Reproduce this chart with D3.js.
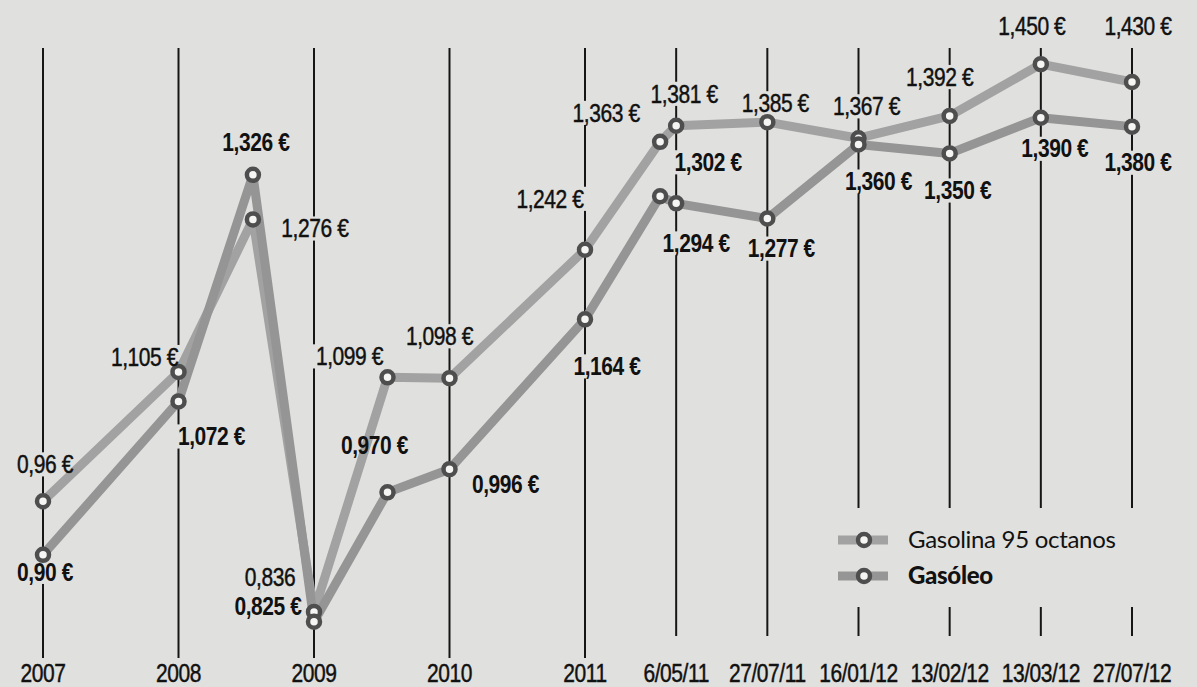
<!DOCTYPE html>
<html>
<head>
<meta charset="utf-8">
<script src="https://cdn.jsdelivr.net/npm/d3@7"></script>
<style>
  html, body { margin: 0; padding: 0; background: #e0e0de; }
  svg { display: block; }
  text { font-family: "Liberation Sans", Arial, sans-serif; fill: #111; }
  text.regular { stroke: #111; stroke-width: 0.45px; }
  text.legend { font-family: Lato, "Liberation Sans", sans-serif; }
</style>
</head>
<body>
<svg id="chart"></svg>
<script>
// axis ticks (dates shown at the bottom)
const tickDates = ["2007-01-01", "2008-01-01", "2009-01-01", "2010-01-01", "2011-01-01",
    "2011-05-06", "2011-07-27", "2012-01-16", "2012-02-13", "2012-03-13", "2012-07-27"];
const tickLabels = ["2007", "2008", "2009", "2010", "2011",
    "6/05/11", "27/07/11", "16/01/12", "13/02/12", "13/03/12", "27/07/12"];

// dates of every reading on the lines
const pointDates = ["2007-01-01", "2008-01-01", "2008-07-20", "2009-01-01", "2009-07-18", "2010-01-01",
    "2011-01-01", "2011-04-14", "2011-05-06", "2011-07-27", "2012-01-16", "2012-02-13", "2012-03-13", "2012-07-27"];

// price per litre, euros
const gasolina = [0.96, 1.105, 1.276, 0.836, 1.099, 1.098, 1.242, 1.363, 1.381, 1.385, 1.367, 1.392, 1.450, 1.430];
const gasoleo = [0.90, 1.072, 1.326, 0.825, 0.970, 0.996, 1.164, 1.302, 1.294, 1.277, 1.360, 1.350, 1.390, 1.380];

const gasolinaLabels = ["0,96 €", "1,105 €", "1,276 €", "0,836", "1,099 €", "1,098 €", "1,242 €",
    "1,363 €", "1,381 €", "1,385 €", "1,367 €", "1,392 €", "1,450 €", "1,430 €"];
const gasoleoLabels = ["0,90 €", "1,072 €", "1,326 €", "0,825 €", "0,970 €", "0,996 €", "1,164 €",
    "1,302 €", "1,294 €", "1,277 €", "1,360 €", "1,350 €", "1,390 €", "1,380 €"];

const seriesNames = ["Gasolina 95 octanos", "Gasóleo"];

// layout: where each value label sits relative to its point
const gasolinaLabelOffset = [[2, -37], [-34, -15], [62, 9], [-44, -35], [-38, -21], [-10, -42], [-35, -51],
    [-54, -29], [8, -32], [8, -19], [8, -32], [-10, -39], [-9, -38], [6, -56]];
const gasoleoLabelOffset = [[2, 17], [33, 35], [3, -33], [-46, -15], [-13, -47], [56, 15], [22, 47],
    [48, -34], [20, 40], [14, 30], [20, 37], [8, 37], [14, 31], [6, 36]];

const width = 1197, height = 687;
const bg = "#e0e0de";
const narrow = 0.84; // condensed look of the newspaper type
const parse = d3.timeParse("%Y-%m-%d");

const svg = d3.select("#chart")
    .attr("width", width)
    .attr("height", height);

svg.append("rect").attr("width", width).attr("height", height).attr("fill", bg);

// years are spaced wider than the 2011-2012 dates
const xFirst = 43, xYearEnd = 585, xLast = 1132;
const xRange = tickDates.map((d, i) => i <= 4
    ? xFirst + i * (xYearEnd - xFirst) / 4
    : xYearEnd + (i - 4) * (xLast - xYearEnd) / (tickDates.length - 5));

const x = d3.scaleTime()
    .domain(tickDates.map(parse))
    .range(xRange);

const y = d3.scaleLinear()
    .domain([0.8, 1.5])
    .range([644, 19.6]);

const gTicks = svg.append("g");
const gKnock = svg.append("g");
const gLines = svg.append("g");
const gMarks = svg.append("g");
const gText = svg.append("g");

const place = (px, py) => "translate(" + px + "," + py + ") scale(" + narrow + ",1)";

// vertical date lines + labels
gTicks.selectAll("line")
    .data(tickDates)
    .enter()
    .append("line")
    .attr("x1", d => x(parse(d)))
    .attr("x2", d => x(parse(d)))
    .attr("y1", 48)
    .attr("y2", (d, i) => i <= 4 ? 658 : 636)
    .attr("stroke", "#161616")
    .attr("stroke-width", 2);

gText.selectAll(".tick")
    .data(tickDates)
    .enter()
    .append("text")
    .attr("class", "tick regular")
    .attr("transform", d => place(x(parse(d)), 673))
    .attr("dy", "0.35em")
    .attr("text-anchor", "middle")
    .style("font-size", "25px")
    .style("letter-spacing", "-0.5px")
    .text((d, i) => tickLabels[i]);

const series = [
    { name: seriesNames[0], values: gasolina, labels: gasolinaLabels, offset: gasolinaLabelOffset, color: "#a2a2a2", bold: false },
    { name: seriesNames[1], values: gasoleo, labels: gasoleoLabels, offset: gasoleoLabelOffset, color: "#959595", bold: true }
];

const line = d3.line()
    .x((d, i) => x(parse(pointDates[i])))
    .y(d => y(d));

series.forEach(s => {
    gLines.append("path")
        .attr("d", line(s.values))
        .attr("fill", "none")
        .attr("stroke", s.color)
        .attr("stroke-width", 9)
        .attr("stroke-linejoin", "round");

    gMarks.selectAll(null)
        .data(s.values)
        .enter()
        .append("circle")
        .attr("cx", (d, i) => x(parse(pointDates[i])))
        .attr("cy", d => y(d))
        .attr("r", 6)
        .attr("fill", "#f5f5f3")
        .attr("stroke", "#4e4e4e")
        .attr("stroke-width", 4.5);

    gText.selectAll(null)
        .data(s.values)
        .enter()
        .append("text")
        .attr("class", s.bold ? "value" : "value regular")
        .attr("transform", (d, i) => place(x(parse(pointDates[i])) + s.offset[i][0], y(d) + s.offset[i][1]))
        .attr("dy", "0.35em")
        .attr("text-anchor", "middle")
        .style("font-size", "25px")
        .style("font-weight", s.bold ? "700" : "400")
        .style("letter-spacing", "-0.5px")
        .text((d, i) => s.labels[i]);
});

// label knock-outs so the vertical lines break behind the text
gText.selectAll("text").each(function () {
    const b = this.getBoundingClientRect();
    gKnock.append("rect")
        .attr("x", b.x - 3)
        .attr("y", b.y + 2)
        .attr("width", b.width + 6)
        .attr("height", b.height - 4)
        .attr("fill", bg);
});

// legend
const legend = svg.append("g");
gKnock.append("rect")
    .attr("x", 830).attr("y", 508)
    .attr("width", 310).attr("height", 99)
    .attr("fill", bg);

legend.selectAll("g")
    .data(series)
    .enter()
    .append("g")
    .attr("transform", (d, i) => "translate(838," + (540 + i * 36) + ")")
    .each(function (d) {
        const g = d3.select(this);
        g.append("line")
            .attr("x1", 0).attr("x2", 50)
            .attr("stroke", d.color)
            .attr("stroke-width", 9);
        g.append("circle")
            .attr("cx", 26).attr("r", 6)
            .attr("fill", "#f5f5f3")
            .attr("stroke", "#4e4e4e")
            .attr("stroke-width", 4.5);
        g.append("text")
            .attr("class", "legend")
            .attr("x", 70)
            .attr("dy", "0.35em")
            .style("font-size", "24px")
            .style("font-weight", d.bold ? "900" : "400")
            .style("letter-spacing", "-0.3px")
            .text(d.name);
    });
</script>
</body>
</html>
